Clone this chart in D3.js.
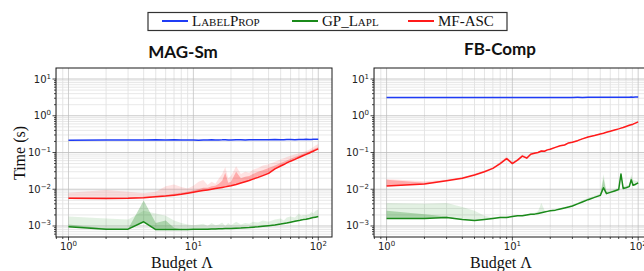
<!DOCTYPE html>
<html>
<head>
<meta charset="utf-8">
<script src="https://cdn.jsdelivr.net/npm/d3@7"></script>
<style>
  body { margin: 0; background: #fff; }
  svg { display: block; }
</style>
</head>
<body>
<svg id="chart" width="644" height="271"></svg>
<script>
// budgets (x) shared by every series
const budgets = [1,2,3,4,5,6,7,8,9,10,11,12,13,14,15,16,17,18,19,20,22,24,26,28,30,33,36,40,45,50,53,56,60,65,70,73,76,80,85,88,91,95,100];

// MAG-Sm
const magLabelProp = [0.215,0.22,0.218,0.22,0.222,0.219,0.221,0.22,0.218,0.22,0.216,0.218,0.22,0.222,0.219,0.22,0.221,0.223,0.22,0.219,0.221,0.222,0.22,0.224,0.222,0.221,0.223,0.222,0.225,0.224,0.222,0.225,0.226,0.224,0.227,0.225,0.226,0.228,0.226,0.227,0.229,0.228,0.23];
const magGP = [0.00095,0.00082,0.00082,0.0013,0.0008,0.0008,0.0008,0.0008,0.0008,0.00081,0.00081,0.00082,0.00082,0.00083,0.00083,0.00084,0.00084,0.00085,0.00085,0.00086,0.00087,0.00088,0.0009,0.00091,0.00093,0.00095,0.00098,0.00102,0.00107,0.00113,0.00117,0.00121,0.00127,0.00134,0.0014,0.00145,0.00149,0.00153,0.0016,0.00165,0.00169,0.00174,0.0018];
const magGPLight = [0.0018,0.0016,0.0015,0.0026,0.0022,0.0019,0.0014,0.0012,0.0011,0.00105,0.0011,0.00115,0.001,0.0012,0.00105,0.0011,0.00125,0.001,0.0012,0.00105,0.0013,0.0011,0.0012,0.00115,0.0013,0.00125,0.0014,0.0013,0.0015,0.0016,0.0014,0.0017,0.0018,0.0017,0.0022,0.0019,0.002,0.002,0.0021,0.0024,0.0022,0.0026,0.0028];
const magGPDark = [0.0011,0.00085,0.00083,0.0049,0.0012,0.0014,0.0009,0.00082,0.00082,0.00083,0.00083,0.00084,0.00084,0.00085,0.00085,0.00086,0.00087,0.00087,0.00088,0.00088,0.0009,0.00091,0.00093,0.00094,0.00096,0.00098,0.00101,0.00105,0.0011,0.00116,0.0012,0.00124,0.0013,0.00138,0.00144,0.00149,0.00153,0.00158,0.00165,0.0017,0.00174,0.0018,0.00186];
const magMF = [0.0057,0.0056,0.0057,0.0059,0.0062,0.0065,0.0069,0.0073,0.0078,0.0083,0.0088,0.0092,0.0096,0.01,0.0104,0.0108,0.0112,0.0116,0.012,0.0124,0.0135,0.0147,0.016,0.0173,0.0188,0.021,0.0235,0.027,0.036,0.043,0.047,0.052,0.058,0.065,0.073,0.078,0.083,0.089,0.097,0.103,0.108,0.116,0.126];
const magMFLight = [0.008,0.0095,0.0085,0.0078,0.0085,0.012,0.0135,0.0115,0.0105,0.0125,0.016,0.0178,0.013,0.016,0.014,0.0195,0.026,0.04,0.02,0.023,0.042,0.026,0.03,0.028,0.034,0.038,0.044,0.048,0.056,0.064,0.07,0.076,0.082,0.088,0.095,0.1,0.105,0.11,0.12,0.13,0.14,0.155,0.17];
const magMFDark = [0.006,0.006,0.006,0.0062,0.0066,0.007,0.0075,0.008,0.0085,0.0092,0.01,0.011,0.011,0.012,0.0125,0.014,0.017,0.028,0.015,0.016,0.03,0.02,0.022,0.023,0.026,0.03,0.033,0.038,0.044,0.052,0.056,0.061,0.068,0.075,0.083,0.088,0.093,0.1,0.108,0.115,0.12,0.13,0.14];

// FB-Comp
const fbLabelProp = [3.15,3.15,3.14,3.15,3.16,3.15,3.15,3.14,3.15,3.15,3.16,3.15,3.15,3.15,3.16,3.15,3.14,3.15,3.15,3.16,3.15,3.16,3.15,3.16,3.16,3.17,3.16,3.17,3.18,3.18,3.19,3.18,3.19,3.2,3.19,3.2,3.21,3.2,3.21,3.22,3.21,3.22,3.22];
const fbGP = [0.0016,0.0016,0.0017,0.0015,0.0014,0.0015,0.0016,0.0017,0.0017,0.0018,0.0019,0.0019,0.002,0.0021,0.0021,0.0022,0.0023,0.0024,0.0025,0.0026,0.0027,0.0029,0.0031,0.0033,0.0035,0.004,0.0045,0.0052,0.006,0.0068,0.011,0.0076,0.0082,0.009,0.0098,0.026,0.0105,0.011,0.0118,0.018,0.0128,0.0135,0.015];
const fbGPLight = [0.0042,0.004,0.0042,0.0033,0.0026,0.0019,0.0017,0.0018,0.0018,0.0019,0.002,0.002,0.0021,0.0022,0.0023,0.0025,0.0042,0.0027,0.0026,0.0027,0.0029,0.0031,0.0033,0.0035,0.0038,0.0043,0.005,0.0058,0.0066,0.0075,0.026,0.009,0.0092,0.01,0.011,0.028,0.012,0.0125,0.0135,0.025,0.018,0.017,0.0165];
const fbGPDark = [0.0026,0.0021,0.0018,0.0015,0.0014,0.0015,0.0016,0.0017,0.0017,0.0018,0.0019,0.0019,0.002,0.0021,0.0021,0.0022,0.0024,0.0024,0.0025,0.0026,0.0027,0.0029,0.0031,0.0033,0.0035,0.004,0.0045,0.0052,0.006,0.007,0.02,0.008,0.0084,0.0092,0.01,0.028,0.0108,0.0113,0.0122,0.022,0.014,0.014,0.0155];
const fbMF = [0.0123,0.0138,0.017,0.02,0.0245,0.03,0.037,0.05,0.068,0.05,0.062,0.08,0.07,0.09,0.095,0.1,0.11,0.108,0.118,0.123,0.138,0.152,0.16,0.182,0.19,0.21,0.235,0.265,0.29,0.32,0.335,0.355,0.38,0.41,0.44,0.46,0.48,0.51,0.55,0.57,0.59,0.63,0.68];
const fbMFLight = [0.019,0.0165,0.0185,0.0215,0.0265,0.0325,0.04,0.056,0.078,0.056,0.068,0.088,0.078,0.097,0.102,0.107,0.117,0.115,0.125,0.13,0.145,0.16,0.168,0.19,0.2,0.22,0.245,0.275,0.3,0.33,0.345,0.365,0.39,0.42,0.45,0.47,0.49,0.52,0.56,0.58,0.6,0.64,0.69];
const fbMFDark = [0.018,0.015,0.0175,0.0205,0.025,0.031,0.038,0.052,0.072,0.053,0.065,0.084,0.074,0.093,0.098,0.103,0.113,0.111,0.121,0.126,0.141,0.155,0.164,0.186,0.195,0.215,0.24,0.27,0.295,0.325,0.34,0.36,0.385,0.415,0.445,0.465,0.485,0.515,0.555,0.575,0.595,0.635,0.685];

const seriesNames = ['LabelProp', 'GP_Lapl', 'MF-ASC'];
const seriesColors = ['#1f3cf5', '#1a8a1a', '#ff1a1a'];
const xTickValues = [1, 10, 100];
const xTickExps = ['0', '1', '2'];
const yTickValues = [10, 1, 0.1, 0.01, 0.001];
const yTickExps = ['1', '0', '\u22121', '\u22122', '\u22123'];

const panels = [
  { title: 'MAG-Sm', left: 56, right: 332, titleY: 58, titleX: 183,
    series: [[magLabelProp, null, null], [magGP, magGPLight, magGPDark], [magMF, magMFLight, magMFDark]] },
  { title: 'FB-Comp', left: 374, right: 652, titleY: 55, titleX: 500,
    series: [[fbLabelProp, null, null], [fbGP, fbGPLight, fbGPDark], [fbMF, fbMFLight, fbMFDark]] }
];

const plotTop = 68, plotBottom = 237;
const svg = d3.select('#chart');
const tickFont = '"DejaVu Sans", sans-serif';
const serifFont = '"Liberation Serif", "DejaVu Serif", serif';

function minors(lo, hi) {
  let out = [];
  for (let e = lo; e <= hi; ++e) {
    for (let m = 2; m <= 9; ++m) out.push(m * Math.pow(10, e));
  }
  return out;
}

panels.forEach((p, pi) => {
  const x = d3.scaleLog().domain([Math.pow(10, -0.1), Math.pow(10, 2.11)]).range([p.left, p.right]);
  const y = d3.scaleLog().domain([Math.pow(10, -3.3), Math.pow(10, 1.3)]).range([plotBottom, plotTop]);
  const xMin = minors(-1, 2).filter(v => v > x.domain()[0] && v < x.domain()[1]);
  const yMin = minors(-4, 1).filter(v => v > y.domain()[0] && v < y.domain()[1]);

  const g = svg.append('g');
  svg.append('clipPath').attr('id', 'clip' + pi)
    .append('rect').attr('x', p.left).attr('y', plotTop)
    .attr('width', p.right - p.left).attr('height', plotBottom - plotTop);

  // grid
  const grid = g.append('g');
  grid.selectAll('.xmin').data(xMin).enter().append('line')
    .attr('x1', d => x(d)).attr('x2', d => x(d)).attr('y1', plotTop).attr('y2', plotBottom)
    .style('stroke', '#dedede').style('stroke-width', 0.8);
  grid.selectAll('.ymin').data(yMin).enter().append('line')
    .attr('y1', d => y(d)).attr('y2', d => y(d)).attr('x1', p.left).attr('x2', p.right)
    .style('stroke', '#e2e2e2').style('stroke-width', 0.8);
  grid.selectAll('.xmaj').data(xTickValues).enter().append('line')
    .attr('x1', d => x(d)).attr('x2', d => x(d)).attr('y1', plotTop).attr('y2', plotBottom)
    .style('stroke', '#c4c4c4').style('stroke-width', 0.8);
  grid.selectAll('.ymaj').data(yTickValues).enter().append('line')
    .attr('y1', d => y(d)).attr('y2', d => y(d)).attr('x1', p.left).attr('x2', p.right)
    .style('stroke', '#bcbcbc').style('stroke-width', 0.8);

  // bands and lines
  const data = g.append('g').attr('clip-path', `url(#clip${pi})`);
  p.series.forEach((s, si) => {
    const mean = s[0];
    [[s[1], 0.12], [s[2], 0.28]].forEach(([hi, op]) => {
      if (!hi) return;
      const area = d3.area()
        .x((d, i) => x(budgets[i]))
        .y0((d, i) => y(mean[i]))
        .y1(d => y(d));
      data.append('path').datum(hi)
        .attr('d', area)
        .style('fill', seriesColors[si])
        .style('fill-opacity', op)
        .style('stroke', 'none');
    });
  });
  p.series.forEach((s, si) => {
    const line = d3.line().x((d, i) => x(budgets[i])).y(d => y(d));
    data.append('path').datum(s[0])
      .attr('d', line)
      .style('fill', 'none')
      .style('stroke', seriesColors[si])
      .style('stroke-width', 1.5)
      .style('stroke-linejoin', 'round');
  });

  // frame
  g.append('rect')
    .attr('x', p.left).attr('y', plotTop)
    .attr('width', p.right - p.left).attr('height', plotBottom - plotTop)
    .style('fill', 'none').style('stroke', '#1a1a1a').style('stroke-width', 1);

  // ticks
  const ticks = g.append('g').style('stroke', '#1a1a1a').style('stroke-width', 0.8);
  ticks.selectAll('.xt').data(xTickValues).enter().append('line')
    .attr('x1', d => x(d)).attr('x2', d => x(d)).attr('y1', plotBottom).attr('y2', plotBottom + 3.5);
  ticks.selectAll('.xm').data(xMin).enter().append('line')
    .attr('x1', d => x(d)).attr('x2', d => x(d)).attr('y1', plotBottom).attr('y2', plotBottom + 2);
  ticks.selectAll('.yt').data(yTickValues).enter().append('line')
    .attr('y1', d => y(d)).attr('y2', d => y(d)).attr('x1', p.left).attr('x2', p.left - 3.5);
  ticks.selectAll('.ym').data(yMin).enter().append('line')
    .attr('y1', d => y(d)).attr('y2', d => y(d)).attr('x1', p.left).attr('x2', p.left - 2);

  // tick labels
  const xl = g.selectAll('.xl').data(xTickValues).enter().append('text')
    .attr('x', d => x(d)).attr('y', plotBottom + 13)
    .attr('text-anchor', 'middle')
    .style('font-family', tickFont).style('font-size', '10px').style('fill', '#222');
  xl.append('tspan').text('10');
  xl.append('tspan').attr('dy', -4).style('font-size', '7px').text((d, i) => xTickExps[i]);

  const yl = g.selectAll('.yl').data(yTickValues).enter().append('text')
    .attr('x', p.left - 5).attr('y', d => y(d) + 3.5)
    .attr('text-anchor', 'end')
    .style('font-family', tickFont).style('font-size', '10px').style('fill', '#222');
  yl.append('tspan').text('10');
  yl.append('tspan').attr('dy', -4).style('font-size', '7px').text((d, i) => yTickExps[i]);

  // title and x label
  g.append('text').attr('x', p.titleX).attr('y', p.titleY)
    .attr('text-anchor', 'middle')
    .style('font-family', 'Lato, "Open Sans", sans-serif').style('font-weight', 'bold')
    .style('font-size', '17px').style('fill', '#111')
    .text(p.title);
  g.append('text').attr('x', (p.left + Math.min(p.right, 644)) / 2 + (pi == 0 ? -12 : -8)).attr('y', 268)
    .attr('text-anchor', 'middle')
    .style('font-family', serifFont).style('font-size', '16px').style('fill', '#111')
    .text('Budget \u039B');
});

// y label
svg.append('text')
  .attr('transform', 'translate(25,153) rotate(-90)')
  .attr('text-anchor', 'middle')
  .style('font-family', serifFont).style('font-size', '16px').style('fill', '#111')
  .text('Time (s)');

// Legend
const legend = svg.append('g');
legend.append('rect')
  .attr('x', 148).attr('y', 12.5).attr('width', 359).attr('height', 18)
  .style('fill', '#fff').style('stroke', '#333').style('stroke-width', 1.2);
const legX = [162, 292, 408];
seriesNames.forEach((name, i) => {
  legend.append('line')
    .attr('x1', legX[i]).attr('x2', legX[i] + 26).attr('y1', 21).attr('y2', 21)
    .style('stroke', seriesColors[i]).style('stroke-width', 2);
  const t = legend.append('text')
    .attr('x', legX[i] + 30).attr('y', 25.5)
    .style('font-family', serifFont).style('font-size', '15px').style('fill', '#111');
  if (i == 0) {
    t.append('tspan').style('font-variant', 'small-caps').text(name);
  } else if (i == 1) {
    t.append('tspan').text('GP_');
    t.append('tspan').style('font-variant', 'small-caps').text('Lapl');
  } else {
    t.text(name);
  }
});
</script>
</body>
</html>
